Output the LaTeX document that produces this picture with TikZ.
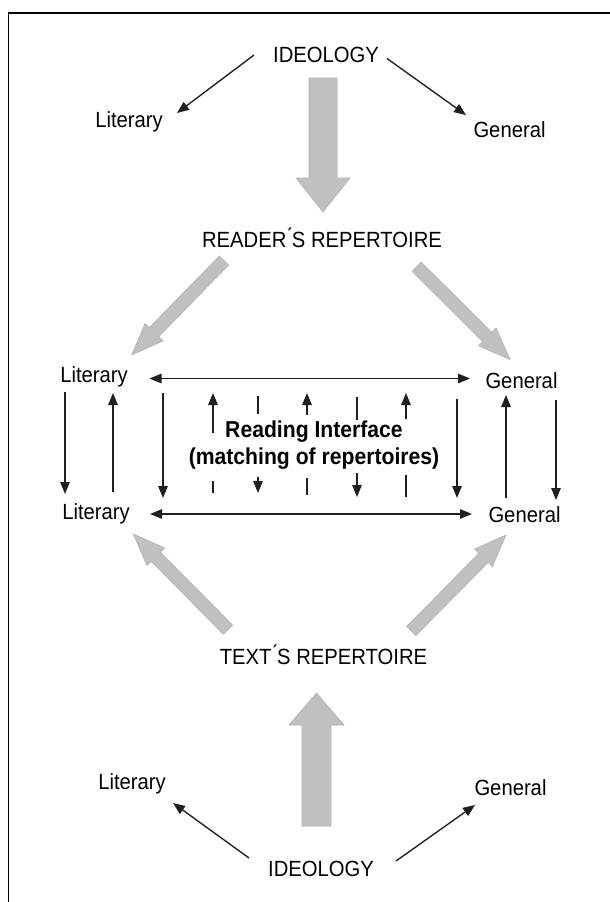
\documentclass[tikz,border=0pt]{standalone}
\usepackage{fontspec}
\setmainfont[FakeStretch=0.92]{Liberation Sans}
\usetikzlibrary{arrows.meta,calc}
\definecolor{fatgray}{HTML}{C0C0C0}
\definecolor{fatedge}{HTML}{B2B2B2}
% #1 tail, #2 tip, #3 half shaft width, #4 half head width, #5 head length
\newcommand\myfat[5]{%
  \coordinate (fh) at ($(#2)!#5!(#1)$);
  \filldraw[fatarrow]
    ($(#1)!#3!90:(#2)$) -- ($(fh)!#3!-90:(#1)$) -- ($(fh)!#4!-90:(#1)$) --
    (#2) --
    ($(fh)!#4!90:(#1)$) -- ($(fh)!#3!90:(#1)$) -- ($(#1)!#3!-90:(#2)$) -- cycle;
}
\begin{document}
\begin{tikzpicture}[x=1pt,y=-1pt,
  lbl/.style={inner sep=0pt, anchor=base, font=\fontsize{22}{26}\selectfont},
  boldlbl/.style={inner sep=0pt, align=center, font=\fontsize{23}{27}\selectfont\bfseries},
  thinarr/.style={line width=1.35pt, draw=black!88, -{Triangle[length=12pt,width=9.5pt]}},
  dblarr/.style={line width=1.35pt, draw=black!88, {Triangle[length=12pt,width=9.5pt]}-{Triangle[length=12pt,width=9.5pt]}},
  tickline/.style={line width=1.35pt, draw=black!88},
  fatarrow/.style={fill=fatgray, draw=fatedge, line width=0.6pt, line join=miter}]
\useasboundingbox (0,0) rectangle (610,902);
\fill[white] (0,0) rectangle (610,902);
% frame (left and top edges)
\draw[line width=1.5pt] (8.6,903) -- (8.6,13) -- (611,13);

% ---- text nodes ----
\node[lbl] (ideoT) at (326,62) {IDEOLOGY};
\node[lbl] (litT)  at (129,127.5) {Literary};
\node[lbl] (genT)  at (509.5,137) {General};
\node[lbl] (reader) at (322,247) {READER\'{}S REPERTOIRE};
\node[lbl] (litM1) at (94,382) {Literary};
\node[lbl] (genM1) at (521.5,388) {General};
\node[lbl] (litM2) at (96,519.5) {Literary};
\node[lbl] (genM2) at (524.5,522) {General};
\node[boldlbl] (iface) at (314,445) {Reading Interface\\(matching of repertoires)};
\node[lbl] (textrep) at (323.5,664) {TEXT\'{}S REPERTOIRE};
\node[lbl] (litB)  at (132,789.5) {Literary};
\node[lbl] (genB)  at (510.5,795) {General};
\node[lbl] (ideoB) at (321,876) {IDEOLOGY};

% ---- fat arrows ----
\coordinate (ftA1) at (323,78);    \coordinate (ftB1) at (323,212);
\myfat{ftA1}{ftB1}{14pt}{27pt}{34pt}
\coordinate (ftA2) at (224,260.5); \coordinate (ftB2) at (131.7,355);
\myfat{ftA2}{ftB2}{6.5pt}{12.5pt}{32pt}
\coordinate (ftA3) at (416.7,266.7); \coordinate (ftB3) at (510,359.5);
\myfat{ftA3}{ftB3}{6.5pt}{12.5pt}{32pt}
\coordinate (ftA4) at (228,629.7); \coordinate (ftB4) at (133.3,534);
\myfat{ftA4}{ftB4}{6.5pt}{12.5pt}{32pt}
\coordinate (ftA5) at (411.3,631); \coordinate (ftB5) at (506,535);
\myfat{ftA5}{ftB5}{6.5pt}{12.5pt}{32pt}
\coordinate (ftA6) at (316.5,826); \coordinate (ftB6) at (316.5,693);
\myfat{ftA6}{ftB6}{14.5pt}{27.5pt}{32pt}

% ---- thin diagonal arrows ----
\coordinate (dTLa) at (254,55);  \coordinate (dTLb) at (177,113);
\coordinate (dTRa) at (387,58.5);  \coordinate (dTRb) at (466,115);
\coordinate (dBLa) at (249,858); \coordinate (dBLb) at (173,803);
\coordinate (dBRa) at (396,861); \coordinate (dBRb) at (475,805);
\draw[thinarr] (dTLa) -- (dTLb);
\draw[thinarr] (dTRa) -- (dTRb);
\draw[thinarr] (dBLa) -- (dBLb);
\draw[thinarr] (dBRa) -- (dBRb);

% ---- horizontal double arrows ----
\coordinate (hTa) at (149.5,378.5); \coordinate (hTb) at (470,378.5);
\coordinate (hBa) at (150,514);   \coordinate (hBb) at (472,514);
\draw[dblarr] (hTa) -- (hTb);
\draw[dblarr] (hBa) -- (hBb);

% ---- vertical arrows ----
\foreach \n/\x/\ya/\yb in {v1/65/392/494, v2/113/492/393, v3/163/393/498,
  v4/457/399/498, v5/506/498/395, v6/556/400/500,
  v7/213/433/393, v8/307/415/393, v9/406/419/393,
  v10/258/477/493, v11/357/473/497}{
  \coordinate (\n a) at (\x,\ya);
  \coordinate (\n b) at (\x,\yb);
  \draw[thinarr] (\n a) -- (\n b);
}
% ---- plain ticks ----
\foreach \n/\x/\ya/\yb in {t1/258/396/414, t2/357/397/420,
  t3/213/481/493, t4/307/478/495, t5/406/475/497}{
  \coordinate (\n a) at (\x,\ya);
  \coordinate (\n b) at (\x,\yb);
  \draw[tickline] (\n a) -- (\n b);
}
\end{tikzpicture}
\end{document}
